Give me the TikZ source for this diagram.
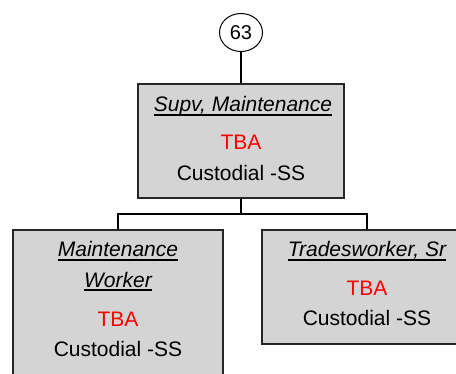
\documentclass[tikz,border=0pt]{standalone}
\usepackage{fontspec}
\setmainfont{Liberation Sans}
\usetikzlibrary{positioning,shapes.geometric}
\definecolor{boxgray}{HTML}{D4D4D4}
\definecolor{tbared}{HTML}{FF0000}
\definecolor{edgegray}{HTML}{262626}
\tikzset{
  posbox/.style={draw=edgegray, line width=1.5pt, fill=boxgray, minimum width=210pt,
                 minimum height=114pt, inner sep=0pt},
  bubble/.style={ellipse, draw, line width=1pt, minimum width=43pt, minimum height=38pt,
                 inner sep=0pt, font=\fontsize{20}{24}\selectfont},
  conn/.style={line width=1.4pt},
  title/.style={anchor=base, inner sep=0pt, font=\fontsize{21}{25}\selectfont\itshape},
  vacant/.style={anchor=base, inner sep=0pt, text=tbared, font=\fontsize{21}{25}\selectfont},
  unit/.style={anchor=base, inner sep=0pt, font=\fontsize{21}{25}\selectfont},
  uline/.style={line width=1.4pt},
}

\begin{document}
\begin{tikzpicture}[x=1pt, y=-1pt]
  \useasboundingbox (0,0) rectangle (456,373);
  % position boxes
  \node[bubble] (num) at (241,32.5) {63};
  \node[posbox, minimum width=206pt] (supv) at (241,141) {};
  \node[posbox, minimum height=150pt] (maint) at (118,305) {};
  \node[posbox] (trades) at (367,287) {};
  \coordinate (split) at (241,214);
  \draw[conn] (num.south) -- (supv.north);
  \draw[conn] (supv.south) -- (split);
  \draw[conn] (split) -| (maint.north);
  \draw[conn] (split) -| (trades.north);
  % supervisor
  \node[title] (supvT) at (243,111) {Supv, Maintenance};
  \node[vacant] (supvN) at (241,149) {TBA};
  \node[unit] (supvU) at (241,180) {Custodial -SS};
  \draw[uline] ([yshift=-4pt]supvT.base west) -- ([yshift=-4pt]supvT.base east);
  % maintenance worker
  \node[title] (maintT) at (118,256) {Maintenance\ };
  \node[title] (maintT2) at (118,287) {Worker};
  \node[vacant] (maintN) at (118,326) {TBA};
  \node[unit] (maintU) at (118,356) {Custodial -SS};
  \draw[uline] ([yshift=-4pt]maintT.base west) -- ([yshift=-4pt]maintT.base east);
  \draw[uline] ([yshift=-3pt]maintT2.base west) -- ([yshift=-3pt]maintT2.base east);
  % tradesworker
  \node[title] (tradesT) at (367,256) {Tradesworker, Sr};
  \node[vacant] (tradesN) at (367,295) {TBA};
  \node[unit] (tradesU) at (367,325) {Custodial -SS};
  \draw[uline] ([yshift=-4pt]tradesT.base west) -- ([yshift=-4pt]tradesT.base east);
\end{tikzpicture}
\end{document}
